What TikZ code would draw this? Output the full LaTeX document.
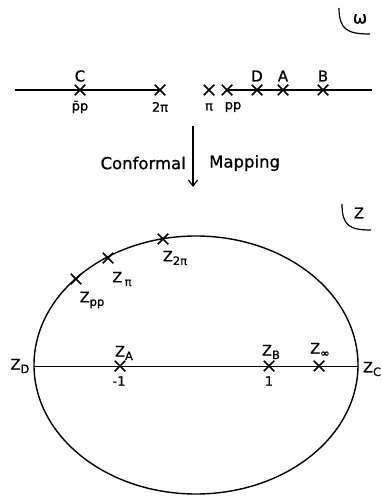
\documentclass[tikz,border=0pt]{standalone}
\usepackage{fontspec}
\setmainfont{DejaVu Sans}[RawFeature={embolden=0.8}]
\usetikzlibrary{arrows.meta, shapes.misc}

\newcommand{\zsub}[1]{\raisebox{-3.5pt}{\fontsize{11.5}{11.5}\selectfont #1}}

\begin{document}
\begin{tikzpicture}[
  x=1pt, y=-1pt,
  xmark/.style={draw, cross out, line width=1.5pt, minimum size=9pt, inner sep=0pt},
  lbl/.style={font=\fontsize{15}{15}\selectfont, inner sep=0pt},
  sub/.style={font=\fontsize{13}{13}\selectfont, inner sep=0pt},
  zlbl/.style={font=\fontsize{14.5}{14.5}\selectfont, inner sep=0pt},
  axis/.style={line width=2.8pt},
  arr/.style={-{Straight Barb[length=6pt, width=9pt]}, line width=1.2pt},
  corner/.style={line width=1.2pt},
]
\useasboundingbox (0,0) rectangle (381,500);

%% ---- omega plane: real axis ----
\coordinate (wl) at (15,90);
\coordinate (wr) at (372,90);
\node[xmark] (wC)   at (80,90)  {};
\node[xmark] (w2pi) at (160,90) {};
\node[xmark] (wpi)  at (209,90) {};
\node[xmark] (wpp)  at (227,90) {};
\node[xmark] (wD)   at (257,90) {};
\node[xmark] (wA)   at (283,90) {};
\node[xmark] (wB)   at (323,90) {};

\draw[axis] (wl) -- (w2pi.center);
\draw[axis] (wpp.center) -- (wr);

\node[lbl] at (80,76)  {C};
\node[lbl] at (257,76) {D};
\node[lbl] at (283,76) {A};
\node[lbl] at (323,76) {B};

\node[sub] at (80,107)  {\={p}p};
\node[sub] at (160,107) {2π};
\node[sub] at (209,107) {π};
\node[sub] at (233,107) {pp};

%% ---- omega corner ----
\draw[corner] (339,8) .. controls (339,30) and (348,34) .. (370,34);
\node[lbl, font=\fontsize{17}{17}\selectfont] (wlabel) at (360,19) {ω};

%% ---- mapping arrow ----
\coordinate (mtop) at (193,126);
\coordinate (mbot) at (193,187);
\draw[arr] (mtop) -- (mbot);
\node[lbl, font=\fontsize{16.5}{16.5}\selectfont, anchor=east] at (186,163) {Conformal};
\node[lbl, font=\fontsize{16.5}{16.5}\selectfont, anchor=west] at (209,163) {Mapping};

%% ---- z corner ----
\draw[corner] (342,204) .. controls (342,226) and (350,230) .. (371,230);
\node[zlbl] (zlabel) at (359,213) {Z};

%% ---- z plane: ellipse and real axis ----
\draw[line width=1.4pt] (196,365) ellipse [x radius=162pt, y radius=129pt];
\coordinate (zD) at (34,366);
\coordinate (zC) at (358,366);
\draw[line width=1pt] (zD) -- (zC);

\node[xmark] (z2pi) at (163,239) {};
\node[xmark] (zpi)  at (108,258) {};
\node[xmark] (zpp)  at (76,279)  {};
\node[xmark] (zA)   at (120,366) {};
\node[xmark] (zB)   at (269,366) {};
\node[xmark] (zinf) at (319,366) {};

\node[zlbl] at (175,258) {Z\zsub{2π}};
\node[zlbl] at (122,279) {Z\,\zsub{π}};
\node[zlbl] at (92,300)  {Z\zsub{pp}};
\node[zlbl] at (124,353) {Z\zsub{A}};
\node[zlbl] at (271,352) {Z\zsub{B}};
\node[zlbl] at (320,350) {Z\zsub{∞}};
\node[zlbl] at (20,366)  {Z\zsub{D}};
\node[zlbl] at (372,369) {Z\zsub{C}};

\node[sub] at (119,381) {-1};
\node[sub] at (269,381) {1};

\end{tikzpicture}
\end{document}
